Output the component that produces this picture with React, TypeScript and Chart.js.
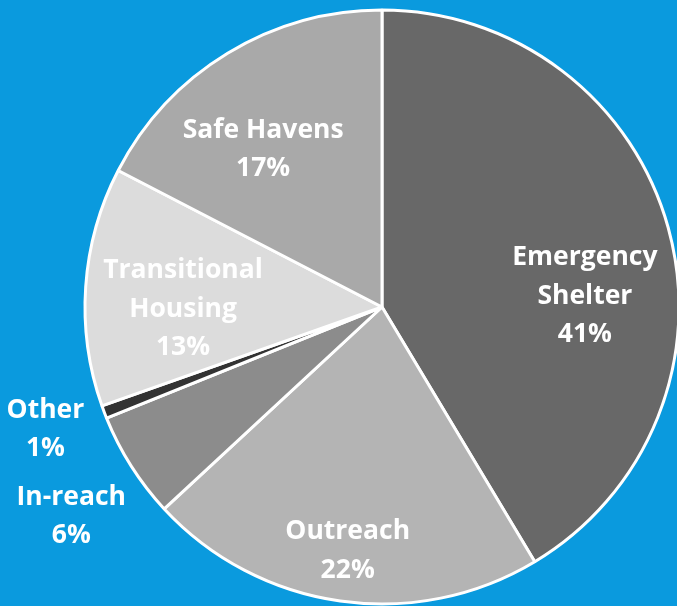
import React, { useEffect, useRef } from "react";
import { Chart, registerables } from "chart.js";

Chart.register(...registerables);

const categories = ["Emergency Shelter", "Outreach", "In-reach", "Other", "Transitional Housing", "Safe Havens"];
const shares = [41.4, 21.7, 5.8, 0.7, 13.0, 17.4];
const percentLabels = ["41%", "22%", "6%", "1%", "13%", "17%"];
const labelLines = [["Emergency", "Shelter"], ["Outreach"], ["In-reach"], ["Other"], ["Transitional", "Housing"], ["Safe Havens"]];
const sliceColors = ["#686868", "#b4b4b4", "#8c8c8c", "#333333", "#dcdcdc", "#a9a9a9"];
// label placement: angle (deg, canvas coords) and radius factor relative to the pie
const labelAngles = [-3, 98, 146, 160, 179.4, -127];
const labelRadius = [0.684, 0.83, 1.262, 1.206, 0.67, 0.665];

const labelPlugin = {
  id: "sliceLabels",
  afterDatasetsDraw(chart: any) {
    const meta = chart.getDatasetMeta(0);
    const ctx = chart.ctx;
    const arc0 = meta.data[0];
    const cx = arc0.x;
    const cy = arc0.y;
    const R = arc0.outerRadius;
    ctx.save();
    ctx.fillStyle = "#ffffff";
    ctx.textAlign = "center";
    ctx.textBaseline = "middle";
    ctx.font = "700 26.5px 'Open Sans'";
    const lh = 38.5;
    categories.forEach((_, i) => {
      const a = (labelAngles[i] * Math.PI) / 180;
      const r = labelRadius[i] * R;
      const x = cx + r * Math.cos(a);
      const y = cy + r * Math.sin(a);
      const lines = [...labelLines[i], percentLabels[i]];
      const startY = y - ((lines.length - 1) * lh) / 2;
      lines.forEach((t, j) => ctx.fillText(t, x, startY + j * lh));
    });
    ctx.restore();
  },
};

export default function App() {
  const ref = useRef<HTMLCanvasElement | null>(null);
  useEffect(() => {
    document.body.style.margin = "0";
    const chart = new Chart(ref.current!, {
      type: "pie",
      data: {
        labels: categories,
        datasets: [
          {
            data: shares,
            backgroundColor: sliceColors,
            borderColor: "#ffffff",
            borderWidth: 3,
            radius: 297,
          } as any,
        ],
      },
      options: {
        animation: false,
        responsive: false,
        layout: { padding: { left: 87, top: 8, right: 0, bottom: 0 } },
        plugins: { legend: { display: false }, tooltip: { enabled: false } },
      },
      plugins: [labelPlugin],
    });
    return () => chart.destroy();
  }, []);
  return (
    <div style={{ position: "fixed", left: 0, top: 0, width: 677, height: 606, background: "#0a9ade" }}>
      <canvas ref={ref} width={677} height={606} style={{ width: 677, height: 606, display: "block" }} />
    </div>
  );
}
